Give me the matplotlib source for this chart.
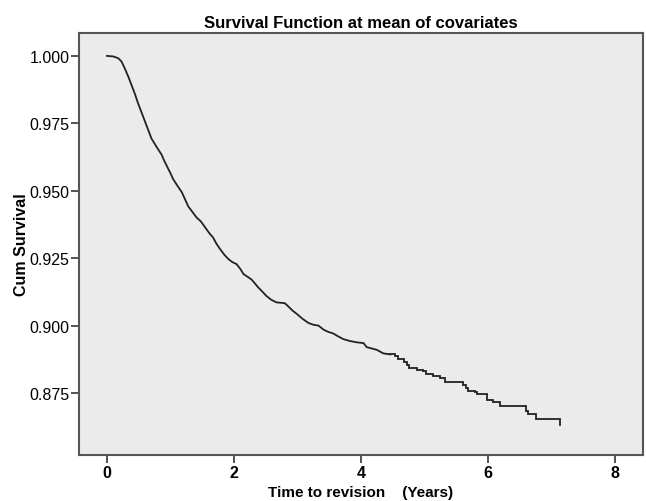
import matplotlib

matplotlib.use("Agg")
import matplotlib.pyplot as plt

plt.rcParams["font.family"] = ["Liberation Sans", "DejaVu Sans"]

# survival estimate at mean of covariates
time_years = [
    0.00, 0.10, 0.18, 0.23, 0.28, 0.34, 0.39, 0.44, 0.49, 0.55,
    0.60, 0.65, 0.70, 0.78, 0.86, 0.90, 0.94, 1.00, 1.04, 1.10,
    1.18, 1.23, 1.28, 1.35, 1.41, 1.48, 1.54, 1.62, 1.67, 1.72,
    1.78, 1.85, 1.91, 1.97, 2.04, 2.10, 2.15, 2.22, 2.28, 2.33,
    2.38, 2.45, 2.51, 2.59, 2.67, 2.80, 2.86, 2.92, 2.99, 3.08,
    3.17, 3.25, 3.33, 3.41, 3.48, 3.56, 3.64, 3.72, 3.82, 3.93,
    4.04, 4.09, 4.17, 4.25, 4.35, 4.46,
    # sparse events: drawn as steps
    4.53, 4.59, 4.67, 4.72, 4.75, 4.88, 4.98, 5.03, 5.14, 5.24,
    5.32, 5.61, 5.66, 5.69, 5.80, 5.82, 5.98, 6.08, 6.19, 6.60,
    6.63, 6.76, 7.13,
]
cum_survival = [
    1.0000, 0.9998, 0.9991, 0.9979, 0.9954, 0.9921, 0.9890, 0.9859, 0.9824, 0.9787,
    0.9756, 0.9725, 0.9694, 0.9663, 0.9634, 0.9612, 0.9593, 0.9565, 0.9544, 0.9522,
    0.9494, 0.9468, 0.9442, 0.9420, 0.9401, 0.9386, 0.9366, 0.9340, 0.9327, 0.9305,
    0.9284, 0.9262, 0.9247, 0.9236, 0.9228, 0.9210, 0.9191, 0.9180, 0.9170, 0.9156,
    0.9142, 0.9125, 0.9110, 0.9095, 0.9086, 0.9083, 0.9070, 0.9056, 0.9043, 0.9025,
    0.9010, 0.9003, 0.9000, 0.8985, 0.8977, 0.8971, 0.8960, 0.8950, 0.8943, 0.8938,
    0.8935, 0.8920, 0.8915, 0.8910, 0.8897, 0.8893,
    0.8886, 0.8876, 0.8864, 0.8852, 0.8841, 0.8835, 0.8832, 0.8820, 0.8814, 0.8804,
    0.8792, 0.8780, 0.8768, 0.8759, 0.8752, 0.8746, 0.8725, 0.8718, 0.8703, 0.8684,
    0.8672, 0.8653, 0.8632,
]
# events are dense enough up to here that the steps blur into a line
dense_until = 4.46

x_ticks = [0, 2, 4, 6, 8]
y_ticks = [0.875, 0.900, 0.925, 0.950, 0.975, 1.000]

split = time_years.index(dense_until) + 1

fig = plt.figure(figsize=(6.46, 5.02), dpi=100)
ax = fig.add_axes([0.1223, 0.0916, 0.8731, 0.8407])
ax.set_facecolor("#ebebeb")

line_kw = dict(color="#222222", lw=1.3, solid_joinstyle="miter")
ax.plot(time_years[:split], cum_survival[:split], **line_kw)
ax.plot(time_years[split - 1:], cum_survival[split - 1:],
        drawstyle="steps-post", **line_kw)

ax.set_xlim(-0.44, 8.44)
ax.set_ylim(0.852, 1.0085)
ax.set_xticks(x_ticks)
ax.set_xticklabels([str(t) for t in x_ticks], fontweight="bold")
ax.set_yticks(y_ticks)
ax.set_yticklabels([f"{v:.3f}" for v in y_ticks])
ax.tick_params(direction="out", length=6, width=1.3, color="#444444",
               labelsize=11.5, pad=1)

for side in ax.spines.values():
    side.set_color("#555555")
    side.set_linewidth(1.5)

ax.set_title("Survival Function at mean of covariates", fontsize=12,
             fontweight="bold", pad=4)
ax.set_xlabel("Time to revision    (Years)", fontsize=11, fontweight="bold",
              labelpad=4)
ax.set_ylabel("Cum Survival", fontsize=11.5, fontweight="bold", labelpad=0)

fig.savefig("out.png", dpi=100)
plt.close(fig)
